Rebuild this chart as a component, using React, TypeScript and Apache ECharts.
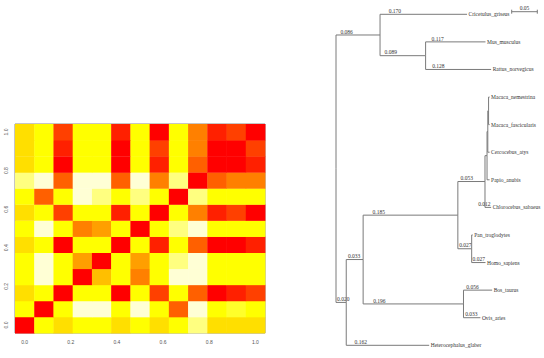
import React, { useEffect, useRef } from "react";
import * as echarts from "echarts";

// R heat.colors(12): level 0 = red (distance 0) ... level 11 = pale
const heatColors = [
  "#FF0000", "#FF2000", "#FF4000", "#FF6000", "#FF8000", "#FF9F00",
  "#FFBF00", "#FFDF00", "#FFFF00", "#FFFF2A", "#FFFF80", "#FFFFD5",
];
const axisTickValues = [0, 0.2, 0.4, 0.6, 0.8, 1.0];

// distance levels, rows from bottom (y = 0) to top (y = 1), columns left to right
const distRows = [
  [0, 8, 7, 8, 8, 7, 8, 7, 8, 10, 7, 7, 7],
  [8, 0, 8, 11, 11, 8, 11, 8, 3, 11, 8, 9, 8],
  [7, 8, 0, 8, 8, 0, 8, 2, 8, 3, 0, 1, 2],
  [8, 11, 8, 0, 6, 8, 4, 8, 11, 11, 8, 8, 8],
  [8, 11, 8, 5, 0, 8, 5, 8, 10, 11, 8, 8, 8],
  [7, 8, 0, 8, 8, 0, 8, 1, 8, 3, 0, 0, 1],
  [8, 11, 8, 4, 5, 8, 0, 8, 10, 11, 8, 8, 8],
  [7, 8, 2, 8, 8, 1, 8, 0, 8, 4, 1, 2, 0],
  [8, 3, 8, 11, 10, 8, 10, 8, 0, 10, 8, 8, 8],
  [10, 11, 3, 11, 11, 3, 11, 4, 10, 0, 3, 4, 4],
  [7, 8, 0, 8, 8, 0, 8, 1, 8, 3, 0, 0, 1],
  [7, 8, 1, 8, 8, 0, 8, 2, 8, 4, 0, 0, 2],
  [7, 8, 2, 8, 8, 1, 8, 0, 8, 4, 1, 2, 0],
];

// Phylogenetic tree edges (children listed in plotting order, top to bottom)
const edgeParent = [
  "root", "A", "A", "B", "B", "root", "D", "E", "F", "H", "J", "K",
  "L", "L", "K", "J", "H", "F", "I", "I", "E", "G", "G", "D",
];
const edgeChild = [
  "A", "Cricetulus_griseus", "B", "Mus_musculus", "Rattus_norvegicus", "D", "E", "F", "H", "J", "K", "L",
  "Macaca_nemestrina", "Macaca_fascicularis", "Cercocebus_atys", "Papio_anubis", "Chlorocebus_sabaeus", "I",
  "Pan_troglodytes", "Homo_sapiens", "G", "Bos_taurus", "Ovis_aries", "Heterocephalus_glaber",
];
const edgeLength = [
  0.086, 0.170, 0.089, 0.117, 0.128, 0.020, 0.033, 0.185, 0.053, 0.004, 0.0015, 0.0015,
  0.002, 0.002, 0.0035, 0.005, 0.012, 0.027, 0.002, 0.027, 0.196, 0.056, 0.033, 0.162,
];
const scaleBarLength = [0.05];

function layoutTree() {
  const children: Record<string, string[]> = {};
  const lenOf: Record<string, number> = {};
  edgeParent.forEach((p, i) => {
    (children[p] = children[p] || []).push(edgeChild[i]);
    lenOf[edgeChild[i]] = edgeLength[i];
  });
  const xs: Record<string, number> = { root: 0 };
  const ys: Record<string, number> = {};
  let leaf = 0;
  const visit = (n: string) => {
    const ch = children[n];
    if (!ch) {
      ys[n] = leaf++;
      return;
    }
    ch.forEach((c) => {
      xs[c] = xs[n] + lenOf[c];
      visit(c);
    });
    ys[n] = (ys[ch[0]] + ys[ch[ch.length - 1]]) / 2;
  };
  visit("root");
  return { xs, ys, children, leafCount: leaf };
}

export default function App() {
  const ref = useRef<HTMLDivElement>(null);
  useEffect(() => {
    if (!ref.current) return;
    const chart = echarts.init(ref.current, null, { renderer: "svg" });
    const n = distRows.length;
    const half = 1 / (2 * (n - 1));
    const heatData: number[][] = [];
    distRows.forEach((row, r) =>
      row.forEach((v, c) => heatData.push([c / (n - 1), r / (n - 1), v]))
    );

    const { xs, ys, children, leafCount } = layoutTree();
    const treeData = edgeChild.map((c, i) => {
      const p = edgeParent[i];
      return [xs[p], ys[p], xs[c], ys[c], edgeLength[i]];
    });

    const lineColor = "#7a7a7a";
    const textColor = "#333";
    const serif = "'Liberation Serif', 'DejaVu Serif', serif";
    const treeFont = 5.5;

    const heatAxisCommon = {
      type: "value" as const,
      min: -half,
      max: 1 + half,
      splitLine: { show: false },
      axisLine: { show: false },
      axisTick: {
        show: true,
        length: 3,
        customValues: axisTickValues,
        lineStyle: { color: "#888", width: 1 },
      },
      axisLabel: {
        customValues: axisTickValues,
        formatter: (v: number) => v.toFixed(1),
        fontSize: 5,
        color: "#555",
        fontFamily: "Liberation Sans, Arial, sans-serif",
      },
    };

    chart.setOption({
      animation: false,
      grid: [
        {
          left: 15,
          top: 124,
          width: 250,
          height: 209,
          show: true,
          borderColor: "#8a8a8a",
          borderWidth: 1,
          backgroundColor: "transparent",
          outerBoundsMode: "none",
        },
        {
          left: 336,
          top: 14.3,
          width: 204.8,
          height: 331,
          outerBoundsMode: "none",
        },
      ],
      xAxis: [
        {
          ...heatAxisCommon,
          gridIndex: 0,
          position: "bottom",
          axisLabel: { ...heatAxisCommon.axisLabel, margin: 6 },
        },
        { type: "value", gridIndex: 1, min: 0, max: 0.4, show: false },
      ],
      yAxis: [
        {
          ...heatAxisCommon,
          gridIndex: 0,
          position: "left",
          axisLabel: { ...heatAxisCommon.axisLabel, margin: 7, rotate: 90 },
        },
        {
          type: "value",
          gridIndex: 1,
          min: 0,
          max: leafCount - 1,
          inverse: true,
          show: false,
        },
      ],
      visualMap: {
        show: false,
        type: "continuous",
        seriesIndex: 0,
        dimension: 2,
        min: 0,
        max: heatColors.length - 1,
        inRange: { color: heatColors },
      },
      series: [
        {
          type: "custom",
          xAxisIndex: 0,
          yAxisIndex: 0,
          data: heatData,
          encode: { x: 0, y: 1 },
          renderItem: (params: any, api: any) => {
            const x = api.value(0);
            const y = api.value(1);
            const p0 = api.coord([x - half, y + half]);
            const p1 = api.coord([x + half, y - half]);
            return {
              type: "rect",
              shape: {
                x: p0[0],
                y: p0[1],
                width: p1[0] - p0[0] + 0.4,
                height: p1[1] - p0[1] + 0.4,
              },
              style: { fill: api.visual("color") },
            };
          },
          z: 1,
        },
        {
          type: "custom",
          xAxisIndex: 1,
          yAxisIndex: 1,
          data: treeData,
          encode: { x: [0, 2], y: [1, 3] },
          clip: false,
          renderItem: (params: any, api: any) => {
            const i = params.dataIndex;
            const p = api.coord([api.value(0), api.value(1)]);
            const c = api.coord([api.value(2), api.value(3)]);
            const len = api.value(4);
            const name = edgeChild[i];
            const isLeaf = !children[name];
            const els: any[] = [
              {
                type: "line",
                shape: { x1: p[0], y1: p[1], x2: p[0], y2: c[1] },
                style: { stroke: lineColor, lineWidth: 1 },
              },
              {
                type: "line",
                shape: { x1: p[0], y1: c[1], x2: c[0], y2: c[1] },
                style: { stroke: lineColor, lineWidth: 1 },
              },
            ];
            if (len >= 0.01) {
              const text = len.toFixed(3);
              const estW = text.length * treeFont * 0.5;
              let lx = p[0] + (c[0] - p[0]) * 0.1;
              if (isLeaf && lx + estW > c[0] + 0.8) lx = c[0] + 0.8 - estW;
              els.push({
                type: "text",
                style: {
                  text,
                  x: lx,
                  y: c[1] - 0.3,
                  align: "left",
                  verticalAlign: "bottom",
                  fontSize: treeFont,
                  fontFamily: serif,
                  fill: textColor,
                },
              });
            }
            if (isLeaf) {
              els.push({
                type: "text",
                style: {
                  text: name,
                  x: c[0] + 1.5,
                  y: c[1],
                  align: "left",
                  verticalAlign: "middle",
                  fontSize: treeFont,
                  fontFamily: serif,
                  fill: textColor,
                },
              });
            }
            return { type: "group", children: els };
          },
        },
        {
          type: "custom",
          xAxisIndex: 1,
          yAxisIndex: 1,
          data: scaleBarLength.map((v) => [v]),
          clip: false,
          renderItem: (params: any, api: any) => {
            const v = api.value(0);
            const w = api.size([v, 0])[0];
            const x0 = 511.7;
            const y0 = 11.7;
            return {
              type: "group",
              children: [
                { type: "line", shape: { x1: x0, y1: y0, x2: x0 + w, y2: y0 }, style: { stroke: lineColor, lineWidth: 1 } },
                { type: "line", shape: { x1: x0, y1: y0 - 2, x2: x0, y2: y0 + 2 }, style: { stroke: lineColor, lineWidth: 1 } },
                { type: "line", shape: { x1: x0 + w, y1: y0 - 2, x2: x0 + w, y2: y0 + 2 }, style: { stroke: lineColor, lineWidth: 1 } },
                {
                  type: "text",
                  style: {
                    text: String(v),
                    x: x0 + w / 2,
                    y: y0 - 1,
                    align: "center",
                    verticalAlign: "bottom",
                    fontSize: treeFont,
                    fontFamily: serif,
                    fill: textColor,
                  },
                },
              ],
            };
          },
        },
      ],
    });
    return () => chart.dispose();
  }, []);
  return (
    <div
      ref={ref}
      style={{ position: "fixed", left: 0, top: 0, width: 544, height: 358, background: "#fff" }}
    />
  );
}
